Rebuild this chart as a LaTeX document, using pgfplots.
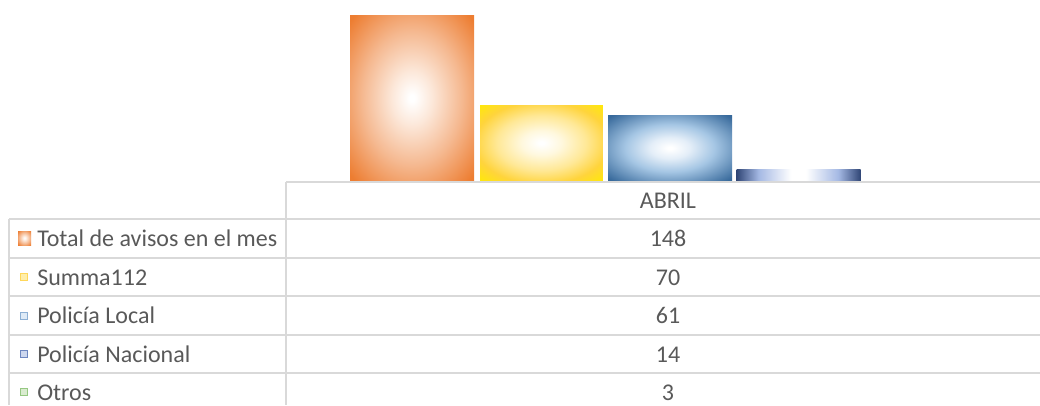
\documentclass[border=0pt]{standalone}
\usepackage{pgfplots}
\pgfplotsset{compat=1.18}
\usepackage{fontspec}
\setmainfont{Carlito}
\definecolor{txt}{RGB}{89,89,89}
\definecolor{gridc}{RGB}{217,217,217}
\definecolor{orng}{RGB}{237,125,49}
\definecolor{orngmid}{RGB}{245,185,145}
\definecolor{orngin}{RGB}{252,232,218}
\definecolor{yel}{RGB}{255,212,60}
\definecolor{yelc}{RGB}{255,232,10}
\definecolor{yelmid}{RGB}{255,232,150}
\definecolor{yelin}{RGB}{255,248,222}
\definecolor{blu}{RGB}{55,105,155}
\definecolor{blumid}{RGB}{165,198,228}
\definecolor{bluin}{RGB}{228,238,248}
\definecolor{nav}{RGB}{48,70,118}
\definecolor{navmid}{RGB}{165,185,228}
\pgfdeclareradialshading{orsh}{\pgfpoint{0bp}{0bp}}{color(0bp)=(white); color(1bp)=(white); color(8bp)=(orngin); color(20bp)=(orngmid); color(34bp)=(orng); color(50bp)=(orng)}
\pgfdeclareradialshading{yesh}{\pgfpoint{0bp}{0bp}}{color(0bp)=(white); color(1bp)=(white); color(8bp)=(yelin); color(18bp)=(yelmid); color(27bp)=(yel); color(35bp)=(yelc); color(50bp)=(yelc)}
\pgfdeclareradialshading{blsh}{\pgfpoint{0bp}{0bp}}{color(0bp)=(white); color(1bp)=(white); color(8bp)=(bluin); color(18bp)=(blumid); color(34bp)=(blu); color(50bp)=(blu)}
\pgfdeclarehorizontalshading{nash}{50bp}{color(0bp)=(nav); color(25bp)=(nav); color(34bp)=(navmid); color(47bp)=(white); color(53bp)=(white); color(66bp)=(navmid); color(75bp)=(nav); color(100bp)=(nav)}
\begin{document}
\begin{tikzpicture}[x=0.75pt,y=-0.75pt]
\path[use as bounding box] (0,0) rectangle (1040,405);
\begin{axis}[
  at={(215.25pt,-135.75pt)}, anchor=south west,
  scale only axis, width=564.75pt, height=135.75pt,
  xmin=287, xmax=1040, ymin=3.56, ymax=161.1,
  hide axis, clip=true,
  every axis plot/.append style={ybar, bar width=124, bar shift=0, draw=none},
]
\addplot[shading=orsh, shade] coordinates {(412,148)};
\addplot[shading=yesh, shade, draw=white, line width=0.75pt] coordinates {(541.5,70)};
\addplot[shading=blsh, shade] coordinates {(670,61)};
\addplot[shading=nash, shade] coordinates {(798.5,14)};
\addplot[fill=green!50!black!40] coordinates {(927,3)};
\end{axis}
% table grid
\begin{scope}[draw=gridc, line width=1.5pt]
\draw (286,182) -- (1040,182);
\foreach \yy in {219,258,296,335,373} \draw (9,\yy) -- (1040,\yy);
\draw (9,219) -- (9,405);
\draw (286,182) -- (286,405);
\end{scope}
% keys
\shade[shading=orsh] (18,231) rectangle (31,245);
\filldraw[fill={rgb,255:red,255;green,238;blue,170}, draw={rgb,255:red,255;green,215;blue,90}, line width=0.75pt] (20.5,273) rectangle (27.5,280);
\filldraw[fill={rgb,255:red,222;green,234;blue,246}, draw={rgb,255:red,140;green,175;blue,212}, line width=0.75pt] (20.5,312) rectangle (27.5,319);
\filldraw[fill={rgb,255:red,205;green,215;blue,238}, draw={rgb,255:red,110;green,135;blue,192}, line width=0.75pt] (20.5,350) rectangle (27.5,357);
\filldraw[fill={rgb,255:red,218;green,236;blue,208}, draw={rgb,255:red,150;green,200;blue,130}, line width=0.75pt] (20.5,388) rectangle (27.5,395);
% labels
\begin{scope}[every node/.style={text=txt, font=\fontsize{18}{21}\selectfont, inner sep=0pt}]
\node[anchor=base west] at (37,246) {Total de avisos en el mes};
\node[anchor=base west] at (37,285) {Summa112};
\node[anchor=base west] at (37,323) {Policía Local};
\node[anchor=base west] at (37,362) {Policía Nacional};
\node[anchor=base west] at (37,400) {Otros};
\node[anchor=base] at (668,208) {ABRIL};
\node[anchor=base] at (668,246) {148};
\node[anchor=base] at (668,285) {70};
\node[anchor=base] at (668,323) {61};
\node[anchor=base] at (668,362) {14};
\node[anchor=base] at (668,400) {3};
\end{scope}
\end{tikzpicture}
\end{document}
